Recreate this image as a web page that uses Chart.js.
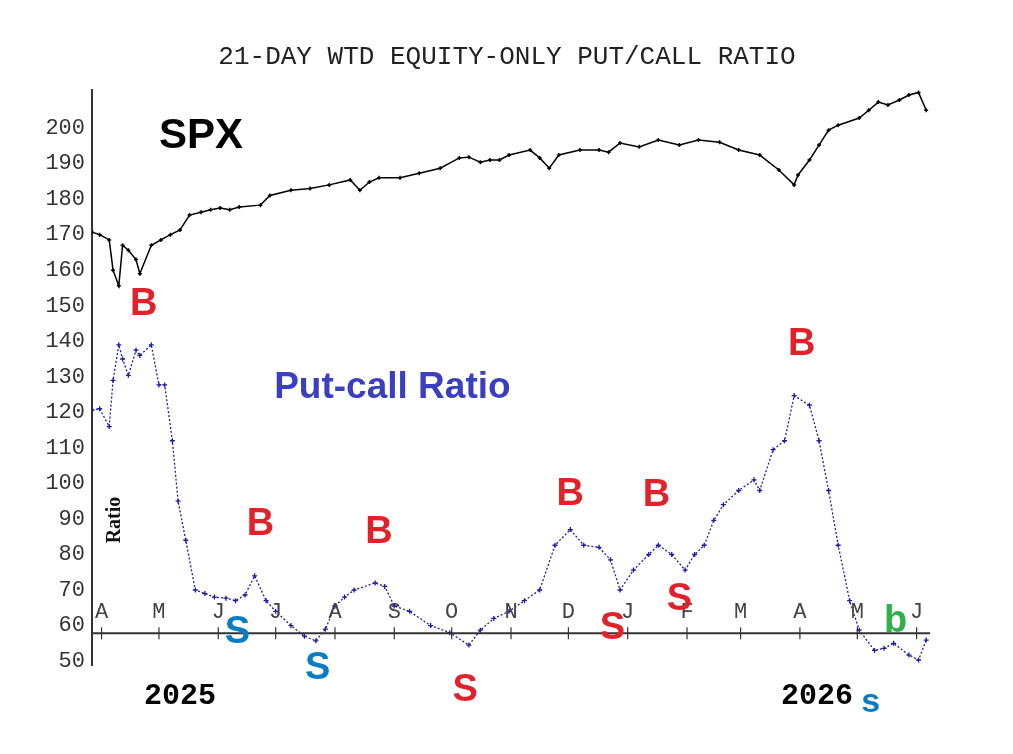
<!DOCTYPE html>
<html>
<head>
<meta charset="utf-8">
<script src="https://cdn.jsdelivr.net/npm/chart.js@4/dist/chart.umd.min.js"></script>
<style>
  html,body{margin:0;padding:0;background:#fff;}
  #wrap{width:1013px;height:754px;}
</style>
</head>
<body>
<div id="wrap"><canvas id="c"></canvas></div>
<script>
// Days counted from 1 Apr 2025
const spxDays = [-5,-1,4,6,9,11,14,18,20,26,31,36,41,46,52,57,62,67,72,83,88,99,109,119,130,135,140,145,156,166,177,187,192,198,203,208,213,224,229,234,239,250,260,265,271,281,291,302,312,323,333,344,354,362,364,370,375,380,385,396,401,406,411,417,422,427,431];
const spxValues = [170.7,170,168.5,160,155.6,167,165.6,163,159,167,168.5,170,171.3,175.5,176.3,177,177.5,177,177.8,178.3,181,182.5,183,184,185.4,182.5,184.8,186,186,187.3,188.7,191.6,191.8,190.4,191,191,192.4,193.8,191.6,188.7,192.4,193.8,193.8,193.2,195.8,194.7,196.6,195.2,196.6,196,193.8,192.4,188.2,184,186.8,191,195.2,199.4,200.8,202.8,205,207.3,206.5,207.9,209.3,210,205];

const pcrDays = [-5,-1,4,6,9,11,14,18,20,26,30,33,37,40,44,49,54,59,65,70,75,80,86,91,99,106,112,117,122,127,132,143,148,153,161,172,182,192,198,205,213,221,229,237,245,252,260,266,271,278,286,291,298,305,310,315,320,325,333,341,344,351,357,362,370,375,380,385,391,396,404,409,414,422,427,431];
const pcrValues = [120.6,121,116,129,139,135,130.4,137.5,136,139,127.7,127.7,112,95,84,70,69,68,67.7,67,68.6,74,67,64,60,57,55.7,59,65.5,68,70,72,71,65.5,64,60,58,54.5,58.7,62,64,67,70,82.6,87,82.6,82,78.5,70,75.6,80,82.6,80,75.6,80,82.6,89.6,94,98,101,98,109.5,112,124.7,122,112,98,82.6,67,58.7,53,53.6,55,51.7,50.3,55.9];

const monthDays = [0,30,61,91,122,153,183,214,244,275,306,334,365,395,426];
const monthLabels = ['A','M','J','J','A','S','O','N','D','J','F','M','A','M','J'];
const yearLabels = [['2025',41],['2026',374]];
const yTicks = [50,60,70,80,90,100,110,120,130,140,150,160,170,180,190,200];

// signal letters: [text, day, value, colour, size]
const signals = [
  ['B',22,150.2,'#e3212b',38],['B',83,88.3,'#e3212b',38],['B',145,86.3,'#e3212b',38],
  ['B',245,97,'#e3212b',38],['B',290,96.7,'#e3212b',38],['B',366,139.2,'#e3212b',38],
  ['S',71,58.1,'#0a7cc1',38],['S',113,48,'#0a7cc1',38],['S',190,41.8,'#e3212b',38],
  ['S',267,59.3,'#e3212b',38],['S',302,67.2,'#e3212b',38],
  ['s',402,38.4,'#0a7cc1',34],['b',415,61,'#2fb24b',38]
];
const axisLineValue = 57.8;

const overlay = {
  id:'overlay',
  afterDraw(chart){
    const {ctx, scales:{x,y}, chartArea:a} = chart;
    ctx.save();
    // title
    ctx.fillStyle = '#222';
    ctx.font = '26px "Liberation Mono", "DejaVu Sans Mono", monospace';
    ctx.textAlign = 'center'; ctx.textBaseline = 'middle';
    ctx.fillText('21-DAY WTD EQUITY-ONLY PUT/CALL RATIO', 507, 57);
    // inner time axis
    const ly = y.getPixelForValue(axisLineValue);
    ctx.strokeStyle = '#333'; ctx.lineWidth = 2;
    ctx.beginPath(); ctx.moveTo(a.left, ly); ctx.lineTo(a.right, ly); ctx.stroke();
    ctx.lineWidth = 1.2;
    ctx.font = '22px "Liberation Mono", monospace';
    ctx.fillStyle = '#444';
    monthDays.forEach((d,i)=>{
      const px = x.getPixelForValue(d);
      ctx.beginPath(); ctx.moveTo(px, ly-6); ctx.lineTo(px, ly+6); ctx.stroke();
      ctx.fillText(monthLabels[i], px, y.getPixelForValue(63.8));
    });
    // years
    ctx.fillStyle = '#000';
    ctx.font = 'bold 30px "Liberation Mono", monospace';
    yearLabels.forEach(([t,d])=> ctx.fillText(t, x.getPixelForValue(d), y.getPixelForValue(40)));
    // labels
    ctx.font = 'bold 42px "Liberation Sans", Arial, sans-serif';
    ctx.fillText('SPX', x.getPixelForValue(52), y.getPixelForValue(197.5));
    ctx.fillStyle = '#3a3fc1';
    ctx.font = 'bold 37px "Liberation Sans", Arial, sans-serif';
    ctx.fillText('Put-call Ratio', x.getPixelForValue(152), y.getPixelForValue(126.8));
    ctx.save();
    ctx.translate(x.getPixelForValue(7), y.getPixelForValue(89.7));
    ctx.rotate(-Math.PI/2);
    ctx.fillStyle = '#111';
    ctx.font = 'bold 20px "Liberation Serif", serif';
    ctx.fillText('Ratio', 0, 0);
    ctx.restore();
    signals.forEach(([t,d,v,c,s])=>{
      ctx.fillStyle = c;
      ctx.font = `bold ${s}px "Liberation Sans", Arial, sans-serif`;
      ctx.fillText(t, x.getPixelForValue(d), y.getPixelForValue(v));
    });
    ctx.restore();
  }
};

new Chart(document.getElementById('c'), {
  type:'line',
  data:{ datasets:[
    { data: spxDays.map((d,i)=>({x:d,y:spxValues[i]})), borderColor:'#000', borderWidth:1.5,
      pointStyle:'cross', pointRadius:2, pointBorderColor:'#000', tension:0 },
    { data: pcrDays.map((d,i)=>({x:d,y:pcrValues[i]})), borderColor:'#1c1ca0', borderWidth:1.3,
      borderDash:[2,2], pointStyle:'cross', pointRadius:2.5, pointBorderColor:'#1c1ca0', tension:0 }
  ]},
  options:{
    responsive:true, maintainAspectRatio:false, animation:false,
    layout:{ padding:{ left:0, top:90, right:83, bottom:89 } },
    plugins:{ legend:{display:false}, tooltip:{enabled:false} },
    scales:{
      x:{ type:'linear', min:-5, max:433, display:false },
      y:{ min:48.9, max:210.7,
          afterFit(s){ s.width = 92; },
          afterBuildTicks(s){ s.ticks = yTicks.map(v=>({value:v})); },
          grid:{ display:false, drawTicks:true, tickLength:5, tickColor:'#333' },
          border:{ display:true, color:'#333', width:2 },
          ticks:{ color:'#333', padding:2, font:{ family:'"Liberation Mono", monospace', size:22 } } }
    }
  },
  plugins:[overlay]
});
</script>
</body>
</html>
